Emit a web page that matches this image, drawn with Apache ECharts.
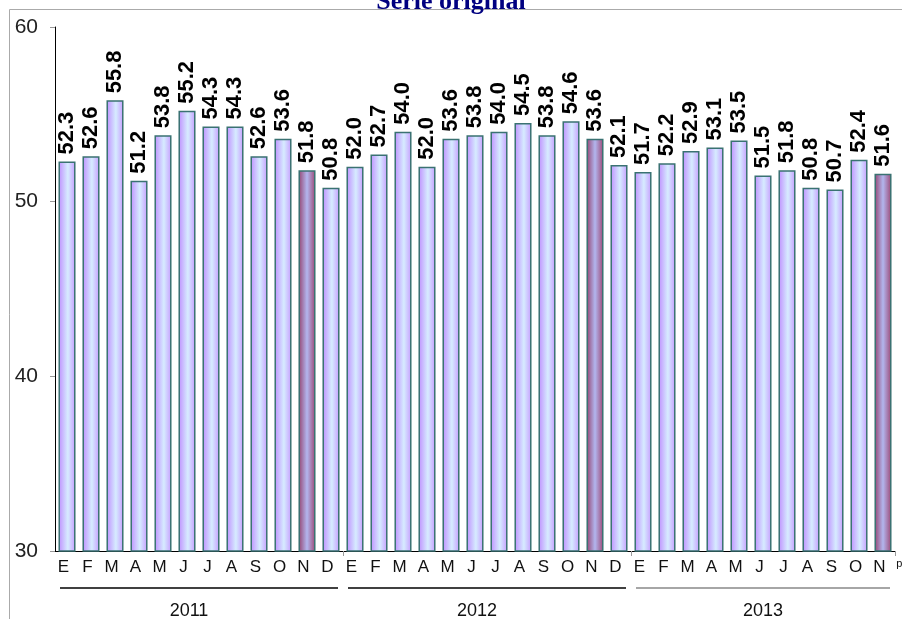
<!DOCTYPE html>
<html>
<head>
<meta charset="utf-8">
<script src="https://cdn.jsdelivr.net/npm/echarts@6/dist/echarts.min.js"></script>
<style>
  html, body { margin: 0; padding: 0; background: #fff; }
  #chart { width: 902px; height: 619px; }
</style>
</head>
<body>
<div id="chart"></div>
<script>
// 月份 (E..D) 和年份
const months = ['E', 'F', 'M', 'A', 'M', 'J', 'J', 'A', 'S', 'O', 'N', 'D']
const years = ['2011', '2012', '2013']
const values2011 = [52.3, 52.6, 55.8, 51.2, 53.8, 55.2, 54.3, 54.3, 52.6, 53.6, 51.8, 50.8]
const values2012 = [52.0, 52.7, 54.0, 52.0, 53.6, 53.8, 54.0, 54.5, 53.8, 54.6, 53.6, 52.1]
const values2013 = [51.7, 52.2, 52.9, 53.1, 53.5, 51.5, 51.8, 50.8, 50.7, 52.4, 51.6]
const highlightMonth = 10 // noviembre

const yearValues = [values2011, values2012, values2013]

const normalColor = new echarts.graphic.LinearGradient(0, 0, 1, 0, [
  { offset: 0, color: '#bf8fff' },
  { offset: 0.55, color: '#d6ecff' },
  { offset: 1, color: '#c69cff' }
])
const darkColor = new echarts.graphic.LinearGradient(0, 0, 1, 0, [
  { offset: 0, color: '#94426f' },
  { offset: 0.5, color: '#b2b6ee' },
  { offset: 1, color: '#9c4674' }
])

// categorías y datos
const categories = []
const data = []
const groups = []
yearValues.forEach(function (vals, y) {
  groups.push({ start: categories.length, count: vals.length, name: years[y] })
  vals.forEach(function (v, m) {
    categories.push(months[m])
    data.push({
      value: v,
      itemStyle: { color: m === highlightMonth ? darkColor : normalColor }
    })
  })
})
const lastIndex = categories.length - 1

const myChart = echarts.init(document.getElementById('chart'))
myChart.setOption({
  animation: false,
  title: {
    text: 'Serie original',
    left: 'center',
    top: -16,
    textStyle: {
      fontFamily: 'Liberation Serif',
      fontWeight: 'bold',
      fontSize: 26,
      color: '#000080'
    }
  },
  grid: { left: 55, right: 7, top: 27, bottom: 68, containLabel: false },
  xAxis: {
    type: 'category',
    data: categories,
    axisLine: { lineStyle: { color: '#000', width: 1 } },
    axisTick: {
      show: true,
      length: 5,
      lineStyle: { color: '#999' },
      interval: function (i) {
        return groups.some(function (g) { return g.start === i && i > 0 })
      }
    },
    axisLabel: {
      interval: 0,
      margin: 8,
      fontFamily: 'Liberation Sans',
      fontSize: 17,
      color: '#111',
      padding: [0, 7, 0, 0]
    }
  },
  yAxis: {
    type: 'value',
    min: 30,
    max: 60,
    interval: 10,
    axisLine: { show: true, lineStyle: { color: '#000', width: 1 } },
    axisTick: { show: true, length: 5, lineStyle: { color: '#999' } },
    splitLine: { show: false },
    axisLabel: {
      margin: 17,
      fontFamily: 'Liberation Sans',
      fontSize: 21,
      color: '#222'
    }
  },
  series: [
    {
      type: 'bar',
      data: data,
      barCategoryGap: '29%',
      itemStyle: { borderColor: '#3a7272', borderWidth: 1.5 },
      label: {
        show: true,
        position: 'top',
        rotate: 90,
        align: 'left',
        verticalAlign: 'middle',
        distance: 7,
        fontFamily: 'Liberation Sans',
        fontWeight: 'bold',
        fontSize: 22,
        color: '#000',
        formatter: function (p) {
          return p.value.toFixed(1)
        }
      }
    }
  ]
})

// líneas de año debajo del eje
const c0 = myChart.convertToPixel({ xAxisIndex: 0 }, 0)
const cw = myChart.convertToPixel({ xAxisIndex: 0 }, 1) - c0
const elements = [
  {
    type: 'polyline',
    shape: { points: [[9.5, 619], [9.5, 9.5], [902, 9.5]] },
    style: { stroke: '#aaa', fill: null, lineWidth: 1 }
  },
  {
    // marca de preliminar junto al último mes
    type: 'text',
    x: myChart.convertToPixel({ xAxisIndex: 0 }, lastIndex) + cw * 0.55,
    y: 558,
    style: { text: 'p', fontFamily: 'Liberation Sans', fontSize: 11, fill: '#111' }
  }
]
groups.forEach(function (g, k) {
  const left = c0 + (g.start - 0.5) * cw
  const right = c0 + (g.start + g.count - 0.5) * cw
  elements.push({
    type: 'line',
    shape: { x1: left + 5, y1: 588, x2: right - 5, y2: 588 },
    style: { stroke: k === groups.length - 1 ? '#888' : '#000', lineWidth: 1.5 }
  })
  elements.push({
    type: 'text',
    x: (left + right) / 2 - (k === groups.length - 1 ? 0 : 10),
    y: 611,
    style: {
      text: g.name,
      fontFamily: 'Liberation Sans',
      fontSize: 18,
      fill: '#111',
      align: 'center',
      verticalAlign: 'middle'
    }
  })
})
myChart.setOption({ graphic: elements })
</script>
</body>
</html>
